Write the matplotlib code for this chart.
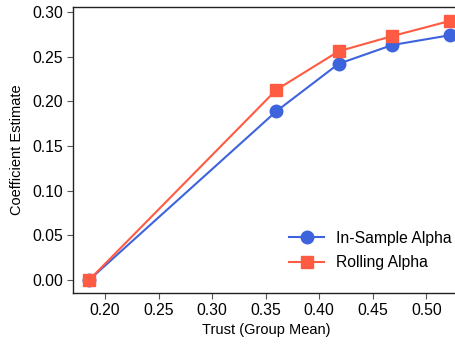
import matplotlib
matplotlib.use("Agg")
import matplotlib.pyplot as plt

plt.rcParams["font.family"] = ["Liberation Sans", "DejaVu Sans"]

trust = [0.185, 0.360, 0.418, 0.468, 0.522]
in_sample = [0.000, 0.189, 0.242, 0.263, 0.274]
rolling = [0.000, 0.213, 0.256, 0.273, 0.290]

fig = plt.figure(figsize=(4.55, 3.44), dpi=100)
ax = fig.add_axes([73 / 455, 51 / 344, 1.0 - 73 / 455 + 0.01, (293 - 7) / 344])

ax.plot(trust, in_sample, "-o", color="#3d63dd", markersize=9, lw=1.5,
        label="In-Sample Alpha")
ax.plot(trust, rolling, "-s", color="#ff5a42", markersize=9, lw=1.5,
        label="Rolling Alpha")

ax.set_xlim(0.17, 0.531)
ax.set_ylim(-0.0145, 0.3056)
ax.set_xticks([0.20, 0.25, 0.30, 0.35, 0.40, 0.45, 0.50])
ax.set_yticks([0.00, 0.05, 0.10, 0.15, 0.20, 0.25, 0.30])
ax.xaxis.set_major_formatter(matplotlib.ticker.FormatStrFormatter("%.2f"))
ax.yaxis.set_major_formatter(matplotlib.ticker.FormatStrFormatter("%.2f"))
ax.tick_params(labelsize=11.3, length=4, width=0.8, color="#555555", pad=3)
for s in ax.spines.values():
    s.set_color("#222222")
    s.set_linewidth(1.0)

ax.set_xlabel("Trust (Group Mean)", fontsize=10.5, labelpad=4)
ax.set_ylabel("Coefficient Estimate", fontsize=10.5, labelpad=6)
ax.legend(loc="lower right", frameon=False, fontsize=11.3,
          bbox_to_anchor=(1.017, 0.03), handlelength=2.2, labelspacing=0.6)

fig.savefig("out.png", dpi=100)
